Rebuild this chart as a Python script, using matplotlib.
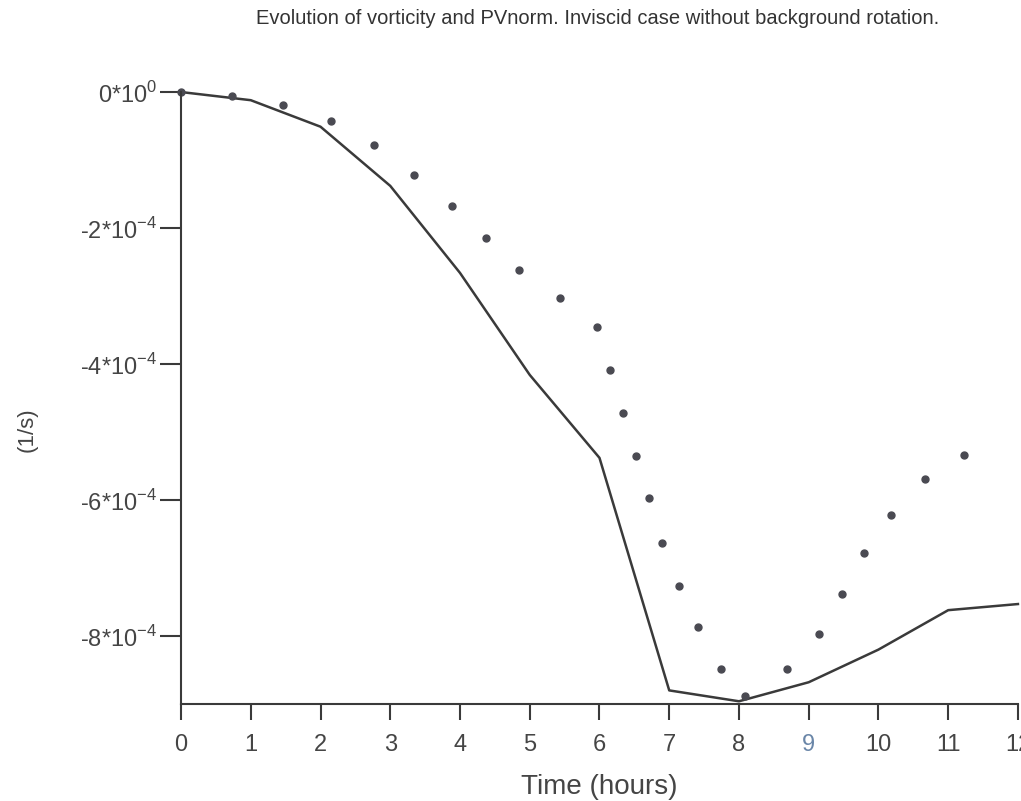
import matplotlib
matplotlib.use("Agg")
import matplotlib.pyplot as plt

# solid line: vorticity (1/s) vs time (hours)
line_t = [0, 1, 2, 3, 4, 5, 6, 7, 8, 9, 10, 11, 12]
line_v = [0.0, -0.12e-4, -0.51e-4, -1.38e-4, -2.66e-4, -4.16e-4, -5.38e-4,
          -8.80e-4, -8.96e-4, -8.68e-4, -8.20e-4, -7.62e-4, -7.53e-4]

# dotted series: PVnorm
dot_t = [0.0, 0.73, 1.46, 2.15, 2.77, 3.34, 3.89, 4.37, 4.85, 5.43, 5.96,
         6.15, 6.34, 6.52, 6.71, 6.90, 7.14, 7.41, 7.74, 8.09, 8.69, 9.15,
         9.48, 9.79, 10.18, 10.67, 11.23]
dot_v = [0.0, -0.06e-4, -0.19e-4, -0.43e-4, -0.78e-4, -1.22e-4, -1.68e-4,
         -2.15e-4, -2.62e-4, -3.03e-4, -3.46e-4, -4.09e-4, -4.72e-4, -5.35e-4,
         -5.97e-4, -6.63e-4, -7.26e-4, -7.87e-4, -8.49e-4, -8.88e-4, -8.49e-4,
         -7.97e-4, -7.38e-4, -6.78e-4, -6.22e-4, -5.69e-4, -5.34e-4]

x_ticks = list(range(13))
y_ticks = [0, -2e-4, -4e-4, -6e-4, -8e-4]
y_labels = [r"0*10$^{0}$", r"-2*10$^{-4}$", r"-4*10$^{-4}$", r"-6*10$^{-4}$", r"-8*10$^{-4}$"]

plt.rcParams["font.family"] = ["Liberation Sans", "DejaVu Sans"]
plt.rcParams["mathtext.fontset"] = "custom"
plt.rcParams["mathtext.rm"] = "Liberation Sans"
ink = "#3a3a3a"
txt = "#454545"

fig = plt.figure(figsize=(10.21, 8.01), dpi=100)
ax = fig.add_axes([0.1773, 0.1211, 0.8197, 0.7640])

ax.plot(line_t, line_v, color=ink, lw=1.8, clip_on=False)
ax.plot(dot_t, dot_v, linestyle="none", marker="o", ms=5, color="#4a4a52", clip_on=False)

ax.set_xlim(0, 12)
ax.set_ylim(-9e-4, 0)
ax.set_xticks(x_ticks)
ax.set_xticklabels([str(t) for t in x_ticks])
ax.set_yticks(y_ticks)
ax.set_yticklabels(y_labels)

for s in ("top", "right"):
    ax.spines[s].set_visible(False)
for s in ("left", "bottom"):
    ax.spines[s].set_color(ink)
    ax.spines[s].set_linewidth(1.5)

ax.tick_params(axis="x", direction="out", length=11.5, width=1.5, color=ink,
               labelsize=17, labelcolor=txt, pad=10)
ax.tick_params(axis="y", direction="out", length=15, width=1.5, color=ink,
               labelsize=17, labelcolor=txt, pad=2)
ax.get_xticklabels()[9].set_color("#6a86a8")

ax.set_xlabel("Time (hours)", fontsize=20, color=txt, labelpad=13)
ax.set_ylabel("(1/s)", fontsize=16, color=txt)
ax.yaxis.set_label_coords(-0.171, 0.448)

fig.text(0.585, 0.977, "Evolution of vorticity and PVnorm. Inviscid case without background rotation.",
         ha="center", va="center", fontsize=14.5, color="#333333")

fig.savefig("out.png", dpi=100)
